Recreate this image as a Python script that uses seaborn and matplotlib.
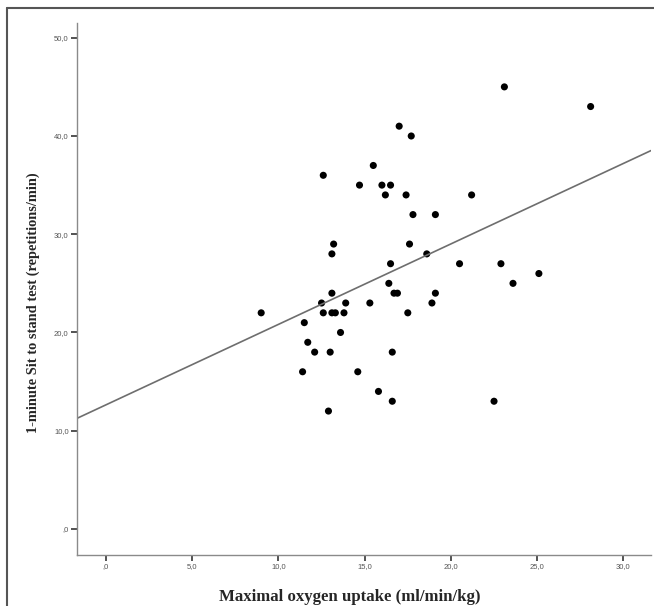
import numpy as np
import pandas as pd
import matplotlib
matplotlib.use("Agg")
import matplotlib.pyplot as plt
from matplotlib.lines import Line2D
from matplotlib.ticker import FuncFormatter, MultipleLocator
import seaborn as sns

# values
vo2_max = [9.0, 12.6, 14.7, 16.0, 16.5, 15.5, 17.0, 17.7, 16.2, 17.4,
           21.2, 17.8, 19.1, 13.2, 17.6, 13.1, 18.6, 16.5, 20.5, 22.9,
           16.4, 13.1, 16.7, 16.9, 19.1, 12.5, 13.9, 15.3, 18.9, 12.6,
           13.1, 13.3, 13.8, 17.5, 11.5, 13.6, 11.7, 12.1, 13.0, 16.6,
           11.4, 14.6, 15.8, 16.6, 22.5, 12.9, 23.1, 28.1, 25.1, 23.6]
sts_reps = [22, 36, 35, 35, 35, 37, 41, 40, 34, 34,
            34, 32, 32, 29, 29, 28, 28, 27, 27, 27,
            25, 24, 24, 24, 24, 23, 23, 23, 23, 22,
            22, 22, 22, 22, 21, 20, 19, 18, 18, 18,
            16, 16, 14, 13, 13, 12, 45, 43, 26, 25]

x_label = "Maximal oxygen uptake (ml/min/kg)"
y_label = "1-minute Sit to stand test (repetitions/min)"

df = pd.DataFrame({"vo2": vo2_max, "sts": sts_reps})

sns.set_style("white")

fig = plt.figure(figsize=(6.54, 6.06), dpi=100)
ax = fig.add_axes([0.1177, 0.0842, 0.8777, 0.8778])
ax.set_xlim(-1.68, 31.6)
ax.set_ylim(-2.65, 51.5)

sns.regplot(data=df, x="vo2", y="sts", ax=ax, ci=None, truncate=False,
            scatter_kws=dict(s=26, color="black", edgecolor="none", alpha=1),
            line_kws=dict(color="#6e6e6e", lw=1.2))
ax.set_xlim(-1.68, 31.6)
ax.set_ylim(-2.65, 51.5)

def spss_fmt(v, pos):
    s = f"{v:.1f}".replace(".", ",")
    if s.startswith("0,"):
        s = s[1:]
    return s

ax.xaxis.set_major_locator(MultipleLocator(5))
ax.yaxis.set_major_locator(MultipleLocator(10))
ax.xaxis.set_major_formatter(FuncFormatter(spss_fmt))
ax.yaxis.set_major_formatter(FuncFormatter(spss_fmt))

sns.despine(ax=ax)
for side in ["left", "bottom"]:
    ax.spines[side].set_color("#8a8a8a")
    ax.spines[side].set_linewidth(1.0)

ax.tick_params(axis="both", direction="out", length=4, width=1.3,
               color="#444444", labelcolor="#555555", labelsize=5.5, pad=2,
               bottom=True, left=True)
for lab in ax.get_xticklabels() + ax.get_yticklabels():
    lab.set_family("Liberation Sans")

ax.set_xlabel(x_label, family="Liberation Serif", fontweight="bold",
              fontsize=12.1, va="center")
ax.set_ylabel(y_label, family="Liberation Serif", fontweight="bold",
              fontsize=10.4, va="center")
ax.xaxis.set_label_coords(0.476, -0.079)
ax.yaxis.set_label_coords(-0.077, 0.474)

# outer frame of the exported chart (top and left edges visible)
fig.add_artist(Line2D([7 / 654, 7 / 654], [0, 1 - 8 / 606], transform=fig.transFigure,
                      color="#555555", lw=1.5))
fig.add_artist(Line2D([7 / 654, 1], [1 - 8 / 606, 1 - 8 / 606], transform=fig.transFigure,
                      color="#555555", lw=1.5))

fig.savefig("out.png", dpi=100)
